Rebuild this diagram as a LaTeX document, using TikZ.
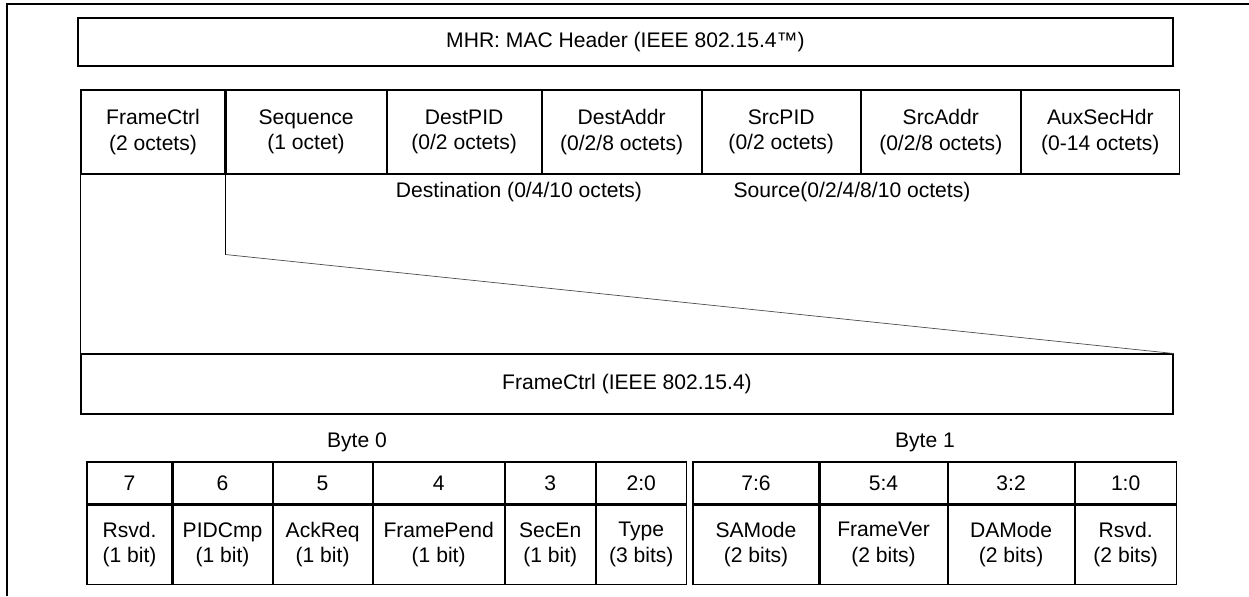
\documentclass[tikz,border=0pt]{standalone}
\usepackage{fontspec}
\setmainfont{Liberation Sans}
\usetikzlibrary{positioning}
\newlength{\pxu}\setlength{\pxu}{0.02cm}
\newcommand{\fs}{\fontsize{12}{14.5}\selectfont}

\begin{document}
\begin{tikzpicture}[x=0.02cm, y=-0.02cm, line width=0.6pt,
  cell/.style={draw, inner sep=0pt, align=center, font=\fs, minimum height=84*\pxu},
  bitno/.style={draw, inner sep=0pt, font=\fs, minimum height=42*\pxu},
  bitfld/.style={draw, inner sep=0pt, align=center, font=\fs, minimum height=79*\pxu},
  lbl/.style={inner sep=0pt, font=\fs}]
\useasboundingbox (0,0) rectangle (1249,596);
\draw[line width=1.2pt] (7,596) -- (7,4) -- (1249,4);

% cabecalho MAC
\node[cell, minimum width=1095*\pxu, minimum height=48*\pxu] (mhr) at (625.5,42) {MHR: MAC Header (IEEE 802.15.4™)};

% campos
\node[cell, minimum width=144*\pxu] (fctrl) at (153,132) {FrameCtrl\\(2 octets)};
\node[cell, minimum width=160*\pxu, right=0pt of fctrl] (seq) {Sequence\\(1 octet)};
\node[cell, minimum width=154*\pxu, right=0pt of seq] (dpid) {DestPID\\(0/2 octets)};
\node[cell, minimum width=159*\pxu, right=0pt of dpid] (daddr) {DestAddr\\(0/2/8 octets)};
\node[cell, minimum width=158*\pxu, right=0pt of daddr] (spid) {SrcPID\\(0/2 octets)};
\node[cell, minimum width=159*\pxu, right=0pt of spid] (saddr) {SrcAddr\\(0/2/8 octets)};
\node[cell, minimum width=158*\pxu, right=0pt of saddr] (aux) {AuxSecHdr\\(0-14 octets)};
\node[lbl] (dest) at (519,192) {Destination (0/4/10 octets)};
\node[lbl] (src) at (852,192) {Source(0/2/4/8/10 octets)};

% FrameCtrl em detalhe
\node[cell, minimum width=1092*\pxu, minimum height=60*\pxu] (fcbox) at (627,384) {FrameCtrl (IEEE 802.15.4)};
\draw (fctrl.south west) -- (fcbox.north west);
\draw (seq.south west) -- ++(0,80) coordinate (bend);
\draw[thin, black!70] (bend) -- (fcbox.north east);

% byte 0
\node[lbl] (b0) at (357,442) {Byte 0};
\node[bitno, minimum width=85*\pxu] (n7) at (129.5,483) {7};
\node[bitno, minimum width=99*\pxu, right=0pt of n7] (n6) {6};
\node[bitno, minimum width=99*\pxu, right=0pt of n6] (n5) {5};
\node[bitno, minimum width=131*\pxu, right=0pt of n5] (n4) {4};
\node[bitno, minimum width=90*\pxu, right=0pt of n4] (n3) {3};
\node[bitno, minimum width=90*\pxu, right=0pt of n3] (n20) {2:0};
\node[bitfld, minimum width=85*\pxu, below=0pt of n7] (rsvd0) {Rsvd.\\(1 bit)};
\node[bitfld, minimum width=99*\pxu, below=0pt of n6] (pidcmp) {PIDCmp\\(1 bit)};
\node[bitfld, minimum width=99*\pxu, below=0pt of n5] (ackreq) {AckReq\\(1 bit)};
\node[bitfld, minimum width=131*\pxu, below=0pt of n4] (fpend) {FramePend\\(1 bit)};
\node[bitfld, minimum width=90*\pxu, below=0pt of n3] (secen) {SecEn\\(1 bit)};
\node[bitfld, minimum width=90*\pxu, below=0pt of n20] (type) {Type\\(3 bits)};

% byte 1
\node[lbl] (b1) at (925,442) {Byte 1};
\node[bitno, minimum width=126*\pxu] (m76) at (756,483) {7:6};
\node[bitno, minimum width=127*\pxu, right=0pt of m76] (m54) {5:4};
\node[bitno, minimum width=126*\pxu, right=0pt of m54] (m32) {3:2};
\node[bitno, minimum width=101*\pxu, right=0pt of m32] (m10) {1:0};
\node[bitfld, minimum width=126*\pxu, below=0pt of m76] (samode) {SAMode\\(2 bits)};
\node[bitfld, minimum width=127*\pxu, below=0pt of m54] (fver) {FrameVer\\(2 bits)};
\node[bitfld, minimum width=126*\pxu, below=0pt of m32] (damode) {DAMode\\(2 bits)};
\node[bitfld, minimum width=101*\pxu, below=0pt of m10] (rsvd1) {Rsvd.\\(2 bits)};
\end{tikzpicture}
\end{document}
